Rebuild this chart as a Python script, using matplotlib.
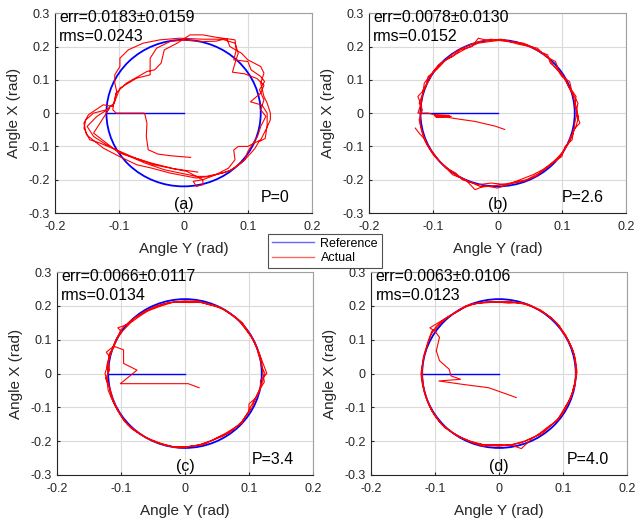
import matplotlib
matplotlib.use("Agg")
import matplotlib.pyplot as plt
import numpy as np
from matplotlib.patches import Ellipse
from matplotlib.lines import Line2D

plt.rcParams['font.family'] = ['Liberation Sans', 'DejaVu Sans']
plt.rcParams['axes.unicode_minus'] = False

# summary numbers per panel
panels = ["(a)", "(b)", "(c)", "(d)"]
p_values = ["0", "2.6", "3.4", "4.0"]
err_mean = [0.0183, 0.0078, 0.0066, 0.0063]
err_std = [0.0159, 0.0130, 0.0117, 0.0106]
rms = [0.0243, 0.0152, 0.0134, 0.0123]

# reference: ellipse half-axes (Angle Y, Angle X) and the approach line
ref_ry = 0.12
ref_rx = 0.22
ref_line_y = [0.0, -0.12]
ref_line_x = [0.0, 0.0]

# actual paths, (Angle Y, Angle X) pairs
actual_a = [
    (0.011, -0.133), (-0.02, -0.128), (-0.04, -0.123), (-0.055, -0.11), (-0.058, -0.07),
    (-0.057, -0.03), (-0.06, -0.005), (-0.061, 0.0), (-0.085, 0.0), (-0.105, 0.0), (-0.11, 0.01),
    # lap 1
    (-0.109, 0.027), (-0.104, 0.065), (-0.107, 0.09), (-0.107, 0.115), (-0.099, 0.14),
    (-0.099, 0.165), (-0.086, 0.19), (-0.063, 0.21), (-0.037, 0.22), (-0.006, 0.225),
    (0.03, 0.222), (0.06, 0.222), (0.08, 0.21), (0.085, 0.18), (0.08, 0.15), (0.076, 0.123),
    (0.095, 0.118), (0.114, 0.104), (0.125, 0.084), (0.12, 0.06), (0.104, 0.034),
    (0.122, 0.024), (0.13, 0.0), (0.13, -0.036), (0.127, -0.076), (0.117, -0.086),
    (0.111, -0.106), (0.1, -0.13), (0.09, -0.15), (0.07, -0.175), (0.04, -0.19), (0.02, -0.195),
    (-0.021, -0.18), (-0.05, -0.165), (-0.073, -0.155), (-0.1, -0.13), (-0.125, -0.105),
    (-0.151, -0.065), (-0.155, -0.03), (-0.148, -0.005), (-0.125, 0.025), (-0.11, 0.02),
    # lap 2
    (-0.099, 0.075), (-0.073, 0.105), (-0.052, 0.115), (-0.052, 0.165), (-0.042, 0.195),
    (-0.021, 0.215), (0.0, 0.22), (0.03, 0.215), (0.05, 0.216), (0.067, 0.224), (0.072, 0.2),
    (0.09, 0.18), (0.1, 0.16), (0.12, 0.14), (0.125, 0.12), (0.12, 0.09), (0.125, 0.05),
    (0.13, 0.03), (0.135, 0.0), (0.135, -0.02), (0.128, -0.05), (0.12, -0.08), (0.1, -0.1),
    (0.085, -0.1), (0.078, -0.111), (0.08, -0.14), (0.07, -0.165), (0.05, -0.185), (0.03, -0.2),
    (0.03, -0.215), (0.02, -0.22), (0.015, -0.205), (0.03, -0.2), (0.005, -0.175),
    (-0.047, -0.155), (-0.075, -0.135), (-0.099, -0.115), (-0.13, -0.09), (-0.146, -0.08),
    (-0.155, -0.045), (-0.152, -0.02), (-0.14, 0.0), (-0.12, 0.01), (-0.108, 0.03),
    # lap 3
    (-0.105, 0.06), (-0.089, 0.09), (-0.057, 0.125), (-0.045, 0.13), (-0.035, 0.15),
    (-0.03, 0.19), (-0.01, 0.21), (0.01, 0.235), (0.03, 0.235), (0.05, 0.228), (0.08, 0.22),
    (0.082, 0.19), (0.078, 0.16), (0.1, 0.155), (0.105, 0.13), (0.12, 0.11), (0.126, 0.095),
    (0.118, 0.07), (0.125, 0.04), (0.12, 0.01), (0.128, -0.01), (0.12, -0.04), (0.115, -0.07),
    (0.1, -0.115), (0.095, -0.14), (0.075, -0.17), (0.06, -0.18), (0.035, -0.19), (0.02, -0.19),
    (-0.03, -0.17), (-0.06, -0.15), (-0.09, -0.125), (-0.12, -0.095), (-0.14, -0.07),
    (-0.15, -0.04), (-0.135, -0.01), (-0.115, 0.015), (-0.14, -0.06), (-0.1, -0.12),
    (-0.05, -0.15), (-0.015, -0.167), (0.022, -0.177),
]

actual_b = [
    (0.011, -0.049), (-0.004, -0.039), (-0.035, -0.025), (-0.06, -0.018), (-0.08, -0.012),
    (-0.096, -0.012), (-0.072, -0.01), (-0.098, -0.008), (-0.075, -0.007), (-0.1, -0.004),
    (-0.108, 0.0), (-0.124, 0.0),
    (-0.118, 0.035), (-0.116, 0.07), (-0.106, 0.1), (-0.1, 0.125), (-0.09, 0.14), (-0.078, 0.165),
    (-0.065, 0.185), (-0.045, 0.205), (-0.028, 0.215), (-0.01, 0.222), (0.01, 0.216), (0.03, 0.212),
    (0.045, 0.205), (0.06, 0.19), (0.07, 0.18), (0.08, 0.165), (0.088, 0.14), (0.1, 0.115),
    (0.108, 0.09), (0.116, 0.06), (0.12, 0.035), (0.124, 0.005), (0.12, -0.03), (0.118, -0.06),
    (0.112, -0.085), (0.104, -0.11), (0.095, -0.135), (0.08, -0.16), (0.065, -0.18), (0.045, -0.2),
    (0.02, -0.21), (-0.005, -0.218), (-0.025, -0.222), (-0.045, -0.205), (-0.062, -0.19),
    (-0.075, -0.17), (-0.09, -0.145), (-0.1, -0.125), (-0.108, -0.1), (-0.115, -0.07),
    (-0.12, -0.035), (-0.12, 0.0),
    (-0.118, 0.02), (-0.124, 0.05), (-0.112, 0.075), (-0.108, 0.11), (-0.095, 0.13), (-0.085, 0.155),
    (-0.07, 0.17), (-0.058, 0.19), (-0.04, 0.2), (-0.03, 0.225), (-0.015, 0.218), (0.005, 0.222),
    (0.022, 0.214), (0.04, 0.21), (0.055, 0.198), (0.065, 0.185), (0.078, 0.175), (0.082, 0.15),
    (0.092, 0.135), (0.1, 0.11), (0.112, 0.095), (0.115, 0.07), (0.122, 0.05), (0.12, 0.02),
    (0.126, -0.01), (0.122, -0.04), (0.114, -0.07), (0.11, -0.09), (0.1, -0.12), (0.09, -0.14),
    (0.075, -0.165), (0.06, -0.19), (0.04, -0.205), (0.02, -0.212), (0.0, -0.225), (-0.02, -0.218),
    (-0.035, -0.23), (-0.05, -0.2), (-0.07, -0.185), (-0.085, -0.155), (-0.095, -0.135),
    (-0.105, -0.11), (-0.112, -0.085), (-0.118, -0.055), (-0.122, -0.02), (-0.117, 0.01),
    (-0.122, 0.03), (-0.116, 0.06), (-0.114, 0.09), (-0.104, 0.115), (-0.092, 0.145), (-0.08, 0.16),
    (-0.062, 0.18), (-0.048, 0.195), (-0.03, 0.21), (-0.012, 0.215), (0.01, 0.22), (0.03, 0.208),
    (0.05, 0.2), (0.062, 0.195), (0.075, 0.17), (0.09, 0.155), (0.095, 0.13), (0.105, 0.105),
    (0.11, 0.08), (0.118, 0.055), (0.125, 0.03), (0.122, 0.0), (0.128, -0.03), (0.118, -0.05),
    (0.116, -0.08), (0.105, -0.1), (0.1, -0.13), (0.085, -0.15), (0.07, -0.17), (0.055, -0.185),
    (0.035, -0.2), (0.015, -0.215), (-0.01, -0.21), (-0.03, -0.215), (-0.055, -0.2), (-0.065, -0.18),
    (-0.08, -0.165), (-0.092, -0.14), (-0.1, -0.12), (-0.11, -0.095), (-0.115, -0.075),
    (-0.122, -0.06), (-0.128, -0.045),
]

actual_c = [
    (0.022, -0.042), (0.005, -0.03), (-0.05, -0.03), (-0.101, -0.03), (-0.075, 0.01), (-0.096, 0.03),
    (-0.096, 0.07), (-0.11, 0.08), (-0.118, 0.06), (-0.12, 0.03), (-0.12, 0.0),
    (-0.122, 0.025), (-0.118, 0.05), (-0.123, 0.063), (-0.112, 0.08), (-0.108, 0.1), (-0.1, 0.125),
    (-0.105, 0.135), (-0.09, 0.145), (-0.078, 0.165), (-0.062, 0.185), (-0.045, 0.2), (-0.025, 0.21),
    (0.0, 0.215), (0.02, 0.212), (0.04, 0.205), (0.055, 0.195), (0.068, 0.18), (0.08, 0.165),
    (0.09, 0.145), (0.1, 0.12), (0.107, 0.1), (0.112, 0.075), (0.118, 0.05), (0.12, 0.02),
    (0.125, 0.0), (0.12, -0.03), (0.115, -0.055), (0.11, -0.075), (0.105, -0.1), (0.095, -0.125),
    (0.088, -0.145), (0.075, -0.165), (0.06, -0.185), (0.04, -0.2), (0.02, -0.212), (0.0, -0.218),
    (-0.02, -0.216), (-0.04, -0.205), (-0.06, -0.19), (-0.075, -0.172), (-0.09, -0.15),
    (-0.1, -0.125), (-0.108, -0.1), (-0.115, -0.07), (-0.118, -0.04), (-0.124, -0.015),
    (-0.118, 0.01), (-0.12, 0.04), (-0.114, 0.07), (-0.11, 0.09), (-0.1, 0.13), (-0.095, 0.14),
    (-0.082, 0.16), (-0.07, 0.175), (-0.055, 0.19), (-0.035, 0.205), (-0.015, 0.212), (0.005, 0.21),
    (0.025, 0.21), (0.045, 0.2), (0.06, 0.19), (0.075, 0.17), (0.085, 0.155), (0.095, 0.13),
    (0.103, 0.11), (0.11, 0.085), (0.116, 0.06), (0.122, 0.03), (0.128, 0.0), (0.118, -0.02),
    (0.118, -0.045), (0.112, -0.07), (0.1, -0.09), (0.1, -0.11), (0.09, -0.14), (0.09, -0.145),
    (0.078, -0.16), (0.07, -0.175), (0.05, -0.19), (0.03, -0.21), (0.01, -0.215), (-0.01, -0.22),
    (-0.03, -0.212), (-0.05, -0.2), (-0.065, -0.185), (-0.085, -0.16), (-0.095, -0.14),
    (-0.105, -0.11), (-0.112, -0.085), (-0.12, -0.05), (-0.122, -0.02),
    (-0.125, 0.0), (-0.12, 0.03), (-0.116, 0.06), (-0.11, 0.085), (-0.104, 0.11), (-0.098, 0.125),
    (-0.085, 0.15), (-0.072, 0.168), (-0.058, 0.185), (-0.04, 0.198), (-0.02, 0.21), (0.0, 0.212),
    (0.02, 0.215), (0.035, 0.205), (0.052, 0.198), (0.065, 0.185), (0.078, 0.168), (0.09, 0.15),
    (0.098, 0.125), (0.105, 0.105), (0.112, 0.08), (0.115, 0.055), (0.12, 0.03), (0.122, 0.0),
    (0.124, -0.025), (0.116, -0.05), (0.108, -0.08), (0.102, -0.1), (0.098, -0.12), (0.09, -0.14),
    (0.082, -0.155), (0.065, -0.175), (0.045, -0.195), (0.025, -0.21), (0.005, -0.216),
    (-0.015, -0.218), (-0.035, -0.21), (-0.055, -0.195), (-0.07, -0.18), (-0.082, -0.165),
    (-0.095, -0.14), (-0.103, -0.115), (-0.11, -0.09), (-0.115, -0.06), (-0.12, -0.03),
    (-0.122, -0.01),
]

actual_d = [
    (0.027, -0.071), (-0.016, -0.042), (-0.057, -0.032), (-0.094, -0.022), (-0.06, -0.017),
    (-0.075, -0.007), (-0.078, 0.013), (-0.093, 0.038), (-0.098, 0.067), (-0.093, 0.107),
    (-0.1, 0.125), (-0.108, 0.135),
    (-0.095, 0.15), (-0.082, 0.165), (-0.068, 0.18), (-0.052, 0.2), (-0.035, 0.207), (-0.015, 0.21),
    (0.005, 0.212), (0.025, 0.21), (0.045, 0.205), (0.06, 0.19), (0.072, 0.178), (0.085, 0.158),
    (0.095, 0.14), (0.1, 0.12), (0.108, 0.1), (0.114, 0.075), (0.118, 0.05), (0.12, 0.02),
    (0.121, 0.0), (0.118, -0.03), (0.115, -0.055), (0.11, -0.08), (0.104, -0.105), (0.095, -0.13),
    (0.085, -0.148), (0.072, -0.168), (0.058, -0.185), (0.04, -0.2), (0.02, -0.21), (0.0, -0.215),
    (-0.02, -0.212), (-0.04, -0.205), (-0.058, -0.19), (-0.075, -0.172), (-0.09, -0.15),
    (-0.1, -0.125), (-0.108, -0.1), (-0.114, -0.07), (-0.118, -0.04), (-0.12, -0.01), (-0.12, 0.02),
    (-0.118, 0.05), (-0.114, 0.075), (-0.11, 0.1), (-0.105, 0.125),
    (-0.1, 0.13), (-0.09, 0.15), (-0.078, 0.17), (-0.062, 0.186), (-0.045, 0.205), (-0.025, 0.21),
    (-0.005, 0.212), (0.015, 0.208), (0.035, 0.21), (0.05, 0.2), (0.065, 0.188), (0.078, 0.17),
    (0.09, 0.15), (0.095, 0.135), (0.104, 0.115), (0.11, 0.09), (0.116, 0.065), (0.12, 0.035),
    (0.122, 0.005), (0.12, -0.02), (0.116, -0.045), (0.113, -0.07), (0.105, -0.095), (0.098, -0.12),
    (0.09, -0.14), (0.075, -0.16), (0.065, -0.175), (0.05, -0.195), (0.035, -0.222), (0.02, -0.212),
    (0.0, -0.21), (-0.025, -0.21), (-0.045, -0.2), (-0.065, -0.185), (-0.08, -0.165),
    (-0.092, -0.145), (-0.102, -0.12), (-0.11, -0.09), (-0.116, -0.06), (-0.12, -0.03),
    (-0.122, 0.0), (-0.119, 0.035), (-0.115, 0.065), (-0.11, 0.095), (-0.106, 0.115),
    (-0.098, 0.14), (-0.086, 0.16), (-0.07, 0.178), (-0.055, 0.195), (-0.04, 0.205), (-0.02, 0.212),
    (0.0, 0.21), (0.02, 0.212), (0.04, 0.205), (0.055, 0.195), (0.068, 0.182), (0.082, 0.165),
    (0.092, 0.145), (0.1, 0.125), (0.106, 0.105), (0.113, 0.08), (0.118, 0.055), (0.12, 0.025),
    (0.12, -0.005), (0.119, -0.035), (0.114, -0.06), (0.108, -0.085), (0.1, -0.11), (0.092, -0.135),
    (0.08, -0.155), (0.068, -0.178), (0.052, -0.19), (0.035, -0.205), (0.015, -0.213),
    (-0.005, -0.212), (-0.025, -0.215), (-0.05, -0.198), (-0.068, -0.18), (-0.085, -0.16),
    (-0.096, -0.135), (-0.105, -0.11), (-0.112, -0.08), (-0.117, -0.05), (-0.12, -0.02),
    (-0.12, 0.005),
]

actual_all = [actual_a, actual_b, actual_c, actual_d]

xticks = [-0.2, -0.1, 0, 0.1, 0.2]
yticks = [-0.3, -0.2, -0.1, 0, 0.1, 0.2, 0.3]
xtick_labels = ["-0.2", "-0.1", "0", "0.1", "0.2"]
ytick_labels = ["-0.3", "-0.2", "-0.1", "0", "0.1", "0.2", "0.3"]

# axes boxes in figure fractions [left, bottom, width, height]
boxes = [
    [0.0866, 0.5927, 0.405, 0.382],
    [0.5811, 0.5927, 0.405, 0.382],
    [0.0898, 0.0918, 0.403, 0.388],
    [0.5843, 0.0918, 0.403, 0.388],
]
p_x = [0.80, 0.75, 0.76, 0.765]
txt_size = 11.5

fig = plt.figure(figsize=(6.35, 5.23), dpi=100)

for i in range(4):
    ax = fig.add_axes(boxes[i])
    path = np.array(actual_all[i])
    ax.add_patch(Ellipse((0, 0), 2 * ref_ry, 2 * ref_rx, fill=False,
                         edgecolor="#0000ff", lw=1.3, zorder=3))
    ax.plot(ref_line_y, ref_line_x, color="#0000ff", lw=1.0, zorder=3)
    ax.plot(path[:, 0], path[:, 1], color="#ff0000", lw=0.8, zorder=4)

    ax.set_xlim(-0.2, 0.2)
    ax.set_ylim(-0.3, 0.3)
    ax.set_xticks(xticks)
    ax.set_xticklabels(xtick_labels)
    ax.set_yticks(yticks)
    ax.set_yticklabels(ytick_labels)
    ax.tick_params(direction="in", length=2, labelsize=9, colors="#262626")
    ax.tick_params(axis="x", pad=6)
    ax.tick_params(axis="y", pad=4)
    ax.grid(True, color="#dadada", lw=0.8)
    ax.set_axisbelow(True)
    for s in ["top", "right"]:
        ax.spines[s].set_color("#a0a0a0")
    for s in ["left", "bottom"]:
        ax.spines[s].set_color("#262626")
    ax.set_xlabel("Angle Y (rad)", fontsize=11, labelpad=6, color="#262626")
    ax.set_ylabel("Angle X (rad)", fontsize=11, labelpad=5, color="#262626")

    ax.text(0.017, 0.9565, "err=%.4f\u00b1%.4f" % (err_mean[i], err_std[i]),
            transform=ax.transAxes, va="baseline", ha="left", fontsize=txt_size)
    ax.text(0.017, 0.86, "rms=%.4f" % rms[i],
            transform=ax.transAxes, va="baseline", ha="left", fontsize=txt_size)
    ax.text(p_x[i], 0.055, "P=" + p_values[i], transform=ax.transAxes,
            va="baseline", ha="left", fontsize=txt_size)
    ax.text(0, -0.288, panels[i], va="baseline", ha="center", fontsize=txt_size)

handles = [Line2D([], [], color="#0000ff", lw=1.0, alpha=0.6),
           Line2D([], [], color="#ff0000", lw=1.0, alpha=0.6)]
leg = fig.legend(handles, ["Reference", "Actual"], loc="upper left",
                 bbox_to_anchor=(0.422, 0.553), fontsize=9, frameon=True,
                 fancybox=False, handlelength=3.4, borderpad=0.3,
                 labelspacing=0.2, handletextpad=0.5, borderaxespad=0)
leg.get_frame().set_edgecolor("#262626")
leg.get_frame().set_linewidth(0.8)

fig.savefig("out.png", dpi=100)
